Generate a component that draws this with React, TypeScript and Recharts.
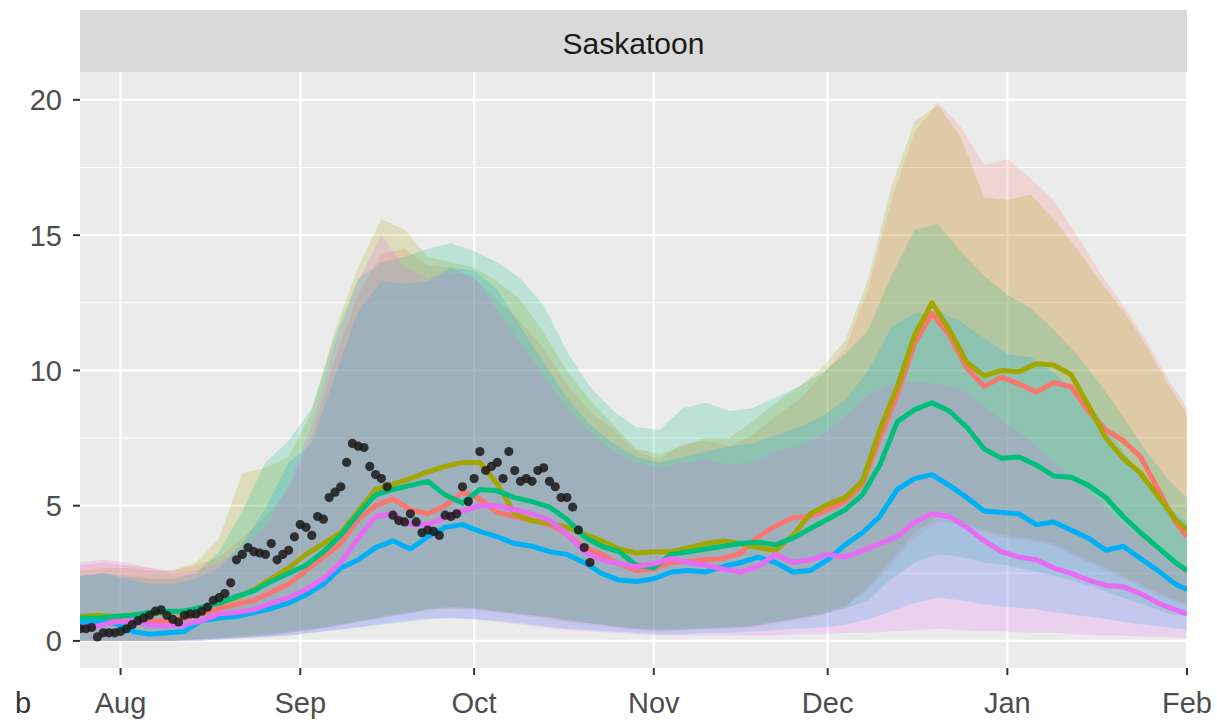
import React from 'react';
import { ComposedChart, Area, Line, XAxis, YAxis, CartesianGrid } from 'recharts';

// x values are days since 25 July
const lineDays = [0,3,6,9,12,15,18,21,24,27,30,33,36,39,42,45,48,51,54,57,60,63,66,69,72,75,78,81,84,87,90,93,96,99,102,105,108,111,114,117,120,123,126,129,132,135,138,141,144,147,150,153,156,159,162,165,168,171,174,177,180,183,186,189,191];

const redMean = [0.75,0.75,0.8,0.65,0.7, 0.75,0.85,1.0,1.2,1.35, 1.5,1.8,2.1,2.6,3.1, 3.6,4.5,5.0,5.25,4.85, 4.7,5.0,5.5,5.25,4.75, 4.6,4.45,4.3,3.95,3.45, 3.2,2.85,2.6,2.65,2.9, 2.95,3.0,3.05,3.25,3.85, 4.25,4.55,4.6,4.85,5.15, 5.8,7.5,9.1,11.0,12.1, 11.3,10.1,9.4,9.75,9.5, 9.2,9.55,9.4,8.5,7.8, 7.4,6.8,5.6,4.4,3.85];
const oliveMean = [0.9,0.95,0.9,0.95,1.0, 1.05,1.1,1.25,1.4,1.6, 1.9,2.3,2.7,3.2,3.6, 4.0,4.8,5.6,5.8,6.0, 6.25,6.45,6.6,6.6,5.8, 4.7,4.45,4.35,4.2,3.95, 3.7,3.4,3.25,3.3,3.3, 3.45,3.6,3.7,3.6,3.45, 3.35,3.9,4.7,5.05,5.3, 5.9,7.8,9.4,11.3,12.5, 11.5,10.3,9.8,10.0,9.95, 10.25,10.2,9.85,8.7,7.5, 6.75,6.2,5.35,4.5,4.1];
const greenMean = [0.85,0.85,0.9,0.95,1.05, 1.1,1.1,1.25,1.4,1.65, 1.85,2.2,2.5,2.8,3.3, 3.9,4.7,5.4,5.6,5.75, 5.9,5.4,5.1,5.6,5.55, 5.3,5.15,4.95,4.5,3.85, 3.5,3.3,2.8,2.7,3.2, 3.3,3.4,3.5,3.6,3.65, 3.55,3.8,4.15,4.5,4.85, 5.4,6.5,8.1,8.55,8.8, 8.5,7.9,7.1,6.75,6.8, 6.5,6.1,6.05,5.75,5.3, 4.6,4.0,3.45,2.9,2.6];
const blueMean = [0.7,0.7,0.65,0.35,0.25, 0.3,0.35,0.75,0.85,0.9, 1.05,1.2,1.4,1.7,2.1, 2.7,3.0,3.45,3.7,3.4, 3.85,4.2,4.3,4.05,3.85, 3.6,3.5,3.3,3.2,2.9, 2.5,2.25,2.2,2.3,2.55, 2.6,2.55,2.75,2.9,3.1, 2.9,2.55,2.6,3.0,3.55, 4.0,4.6,5.6,6.0,6.15, 5.75,5.3,4.8,4.75,4.7, 4.3,4.4,4.1,3.8,3.35, 3.5,3.05,2.6,2.1,1.9];
const magentaMean = [0.5,0.55,0.7,0.75,0.6, 0.55,0.6,0.75,1.0,1.05, 1.15,1.4,1.6,1.9,2.3, 2.9,3.8,4.6,4.7,4.3, 4.3,4.55,4.8,5.0,5.0, 4.85,4.7,4.45,3.95,3.3, 3.0,2.85,2.75,2.85,3.05, 2.9,2.8,2.65,2.55,2.75, 3.2,2.9,3.0,3.2,3.1, 3.35,3.6,3.85,4.4,4.7, 4.6,4.2,3.7,3.3,3.1, 3.0,2.7,2.5,2.25,2.05, 2.0,1.75,1.4,1.15,1.0];

const ribbonDays = [0,4,8,12,16,20,24,28,32,36,40,44,48,52,56,60,64,68,72,76,80,84,88,92,96,100,104,108,112,116,120,124,128,132,136,140,144,148,152,156,160,164,168,172,176,180,184,188,191];

const redHigh = [2.8,2.9,2.8,2.7,2.6, 2.8,3.1,3.8,4.6,5.6, 7.6,10.4,12.8,14.3,14.5, 13.9,13.8,13.4,12.6,11.8, 10.8,9.5,8.5,7.8,7.0, 6.7,7.3,7.4,7.2,7.6, 8.3,8.9,9.8,10.8,13.0, 16.3,18.8,19.9,19.0,17.6, 17.8,17.1,16.3,15.0,13.6, 12.4,11.1,9.6,8.6];
const redLow = [0,0,0,0,0, 0.05,0.1,0.15,0.2,0.3, 0.4,0.55,0.7,0.85,1.0, 1.15,1.2,1.15,1.05,0.95, 0.85,0.7,0.6,0.5,0.4, 0.35,0.4,0.45,0.45,0.5, 0.65,0.8,0.95,1.25,1.9, 2.8,3.8,4.4,4.3,4.0, 3.8,3.7,3.5,3.1,2.7, 2.3,1.9,1.5,1.3];
const oliveHigh = [2.6,2.7,2.7,2.6,2.6, 2.9,3.8,6.2,6.4,6.8, 8.5,11.5,13.8,15.6,15.2, 14.2,14.0,13.8,13.3,12.6, 11.4,10.0,8.9,8.0,7.1, 6.9,7.2,7.5,7.5,8.1, 8.8,9.4,10.1,11.1,13.4, 16.8,19.2,19.8,18.6,16.4, 16.3,16.5,15.6,14.5,13.3, 12.2,10.9,9.4,8.4];
const oliveLow = [0,0,0,0,0, 0.05,0.1,0.2,0.25,0.35, 0.45,0.6,0.75,0.9,1.05, 1.2,1.25,1.2,1.1,1.0, 0.9,0.75,0.65,0.55,0.45, 0.4,0.45,0.5,0.5,0.55, 0.7,0.85,1.0,1.3,2.0, 3.0,4.0,4.6,4.4,4.1, 3.9,3.8,3.6,3.2,2.8, 2.4,2.0,1.6,1.4];
const greenHigh = [2.4,2.5,2.4,2.3,2.3, 2.5,3.3,4.8,6.6,7.4, 8.6,11.3,13.4,14.0,14.2, 14.5,14.7,14.4,14.0,13.4, 12.4,10.7,9.4,8.5,7.9, 7.8,8.6,8.8,8.5,8.6, 9.0,9.4,9.9,10.6,11.5, 13.5,15.2,15.4,14.4,13.5, 12.8,12.3,11.5,10.6,9.5, 8.3,7.0,5.9,5.3];
const greenLow = [0,0,0,0,0, 0.05,0.1,0.15,0.2,0.3, 0.4,0.55,0.7,0.85,1.0, 1.15,1.25,1.2,1.1,1.0, 0.9,0.8,0.65,0.55,0.45, 0.4,0.4,0.45,0.5,0.55, 0.7,0.85,1.0,1.2,1.5, 2.3,2.9,3.2,3.1,2.9, 2.8,2.6,2.4,2.2,1.9, 1.6,1.3,1.0,0.9];
const blueHigh = [2.4,2.5,2.3,2.1,2.1, 2.3,2.7,3.6,4.9,6.6, 7.3,9.8,12.2,13.3,13.2, 13.3,13.8,13.7,13.0,11.6, 10.3,9.0,8.0,7.3,6.8, 6.6,6.8,7.0,7.2,7.3, 7.6,7.9,8.3,8.9,10.0, 11.6,12.1,12.2,11.8,11.2, 10.6,10.5,9.9,9.2,8.2, 7.0,5.9,4.9,4.4];
const blueLow = [0,0,0,0,0, 0,0.05,0.1,0.15,0.2, 0.3,0.4,0.5,0.6,0.7, 0.8,0.85,0.8,0.75,0.65, 0.55,0.45,0.4,0.35,0.3, 0.25,0.25,0.3,0.3,0.35, 0.4,0.45,0.5,0.6,0.8, 1.1,1.4,1.6,1.5,1.35, 1.25,1.2,1.05,0.95,0.85, 0.7,0.6,0.5,0.4];
const magentaHigh = [2.9,3.0,2.9,2.7,2.5, 2.6,2.9,3.4,4.2,5.8, 8.0,11.0,13.3,15.0,13.8, 13.4,13.6,13.5,12.2,11.0, 9.8,8.6,7.7,7.0,6.6, 6.4,6.6,6.7,6.5,6.6, 7.0,7.2,7.6,8.3,9.1, 9.5,9.6,9.5,9.3,8.7, 8.0,7.4,6.6,5.9,5.1, 4.3,3.7,3.1,2.7];
const magentaLow = [0,0,0,0,0, 0,0.05,0.1,0.15,0.2, 0.3,0.4,0.5,0.65,0.75, 0.85,0.85,0.8,0.7,0.6, 0.5,0.4,0.35,0.3,0.25, 0.2,0.2,0.2,0.2,0.2, 0.2,0.25,0.25,0.3,0.3, 0.35,0.4,0.45,0.4,0.35, 0.35,0.3,0.3,0.25,0.2, 0.2,0.15,0.15,0.1];

// observed values, one per day starting at day 0
const observed = [0.45,0.45,0.5,0.15,0.3, 0.3,0.3,0.35,0.45,0.6, 0.75,0.85,0.95,1.1,1.15, 0.95,0.8,0.7,0.95,1.0, 1.0,1.1,1.25,1.5,1.6, 1.75,2.15,3.0,3.2,3.45, 3.3,3.25,3.2,3.6,3.0, 3.2,3.35,3.85,4.3,4.2, 3.9,4.6,4.5,5.3,5.5, 5.7,6.6,7.3,7.2,7.15, 6.45,6.15,6.0,5.7,4.65, 4.45,4.4,4.7,4.4,4.0, 4.1,4.05,3.9,4.65,4.6, 4.7,5.7,5.15,6.0,7.0, 6.3,6.45,6.6,6.0,7.0, 6.3,5.9,6.0,5.9,6.3, 6.4,5.9,5.7,5.3,5.3, 4.95,4.1,3.45,2.9];

const monthTickDays = [7, 38, 68, 99, 129, 160, 191];
const monthTickLabels = ['Aug', 'Sep', 'Oct', 'Nov', 'Dec', 'Jan', 'Feb'];
const yTicks = [0, 5, 10, 15, 20];
const yMinorTicks = [2.5, 7.5, 12.5, 17.5];
const panelTitle = 'Saskatoon';
const tagLabel = 'b';

const series = [
  { key: 'red', color: '#F8766D', mean: redMean, low: redLow, high: redHigh },
  { key: 'olive', color: '#A3A500', mean: oliveMean, low: oliveLow, high: oliveHigh },
  { key: 'green', color: '#00BF7D', mean: greenMean, low: greenLow, high: greenHigh },
  { key: 'blue', color: '#00B0F6', mean: blueMean, low: blueLow, high: blueHigh },
  { key: 'magenta', color: '#E76BF3', mean: magentaMean, low: magentaLow, high: magentaHigh },
];

const ribbonData = ribbonDays.map((d, i) => {
  const row: any = { d };
  series.forEach((s) => { row[s.key] = [s.low[i], s.high[i]]; });
  return row;
});
const lineData = lineDays.map((d, i) => {
  const row: any = { d };
  series.forEach((s) => { row[s.key] = s.mean[i]; });
  return row;
});
const obsData = observed.map((v, i) => ({ d: i, v }));

const FONT = '"Liberation Sans", Arial, sans-serif';

const YTick = (props: any) => {
  const { y, payload } = props;
  return (
    <text x={62} y={y + 10.5} textAnchor="end" fontFamily={FONT} fontSize={29} fill="#4D4D4D">
      {payload.value}
    </text>
  );
};

const XTick = (props: any) => {
  const { x, payload } = props;
  const idx = monthTickDays.indexOf(payload.value);
  return (
    <text x={x} y={713} textAnchor="middle" fontFamily={FONT} fontSize={29} fill="#4D4D4D">
      {idx >= 0 ? monthTickLabels[idx] : ''}
    </text>
  );
};

export default function App() {
  return (
    <div style={{ position: 'absolute', left: 0, top: 0, width: 1217, height: 722, background: '#FFFFFF' }}>
      <ComposedChart width={1217} height={722} margin={{ top: 72, right: 30, bottom: 0, left: 0 }}>
        <CartesianGrid fill="#EBEBEB" fillOpacity={1} stroke="#FFFFFF" strokeWidth={1.1} vertical={false} horizontalValues={yMinorTicks} />
        <CartesianGrid stroke="#FFFFFF" strokeWidth={2.2} horizontalValues={yTicks} verticalValues={monthTickDays} />
        <XAxis
          type="number"
          dataKey="d"
          domain={[0, 191]}
          ticks={monthTickDays}
          allowDataOverflow
          height={54}
          axisLine={false}
          tickSize={7}
          tickLine={{ stroke: '#333333', strokeWidth: 2 }}
          tick={<XTick />}
          interval={0}
        />
        <YAxis
          type="number"
          domain={[-1.0, 21.03]}
          ticks={yTicks}
          allowDataOverflow
          width={80}
          axisLine={false}
          tickSize={7}
          tickLine={{ stroke: '#333333', strokeWidth: 2 }}
          tick={<YTick />}
          interval={0}
        />
        {series.map((s) => (
          <Area
            key={'rib-' + s.key}
            data={ribbonData}
            dataKey={s.key}
            type="linear"
            stroke="none"
            fill={s.color}
            fillOpacity={0.2}
            isAnimationActive={false}
            activeDot={false}
          />
        ))}
        {series.map((s) => (
          <Line
            key={'line-' + s.key}
            data={lineData}
            dataKey={s.key}
            type="linear"
            stroke={s.color}
            strokeWidth={5}
            strokeLinejoin="round"
            dot={false}
            activeDot={false}
            isAnimationActive={false}
          />
        ))}
        <Line
          data={obsData}
          dataKey="v"
          stroke="none"
          dot={{ r: 4.6, fill: '#1A1A1A', fillOpacity: 0.85, stroke: 'none' }}
          activeDot={false}
          isAnimationActive={false}
        />
      </ComposedChart>
      <svg width={1217} height={722} style={{ position: 'absolute', left: 0, top: 0, pointerEvents: 'none' }}>
        <rect x={80} y={10} width={1107} height={62} fill="#D9D9D9" />
        <text x={633.5} y={54} textAnchor="middle" fontFamily={FONT} fontSize={30} fill="#1A1A1A">
          {panelTitle}
        </text>
        <text x={15} y={713} fontFamily={FONT} fontSize={29} fill="#333333">
          {tagLabel}
        </text>
      </svg>
    </div>
  );
}
